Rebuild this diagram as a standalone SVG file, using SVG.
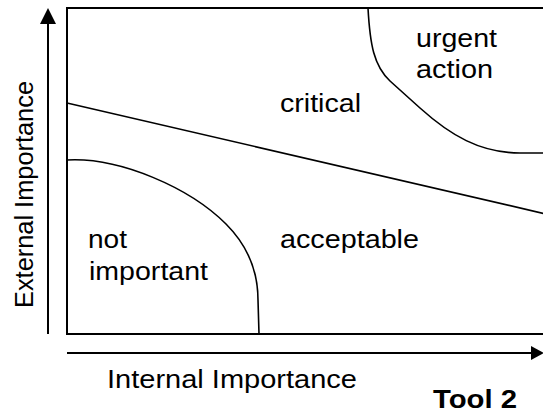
<svg xmlns="http://www.w3.org/2000/svg" width="543" height="413" viewBox="0 0 543 413">
  <defs>
    <style>
      .frame { fill: none; stroke: #000; stroke-width: 2; }
      .axis { fill: none; stroke: #000; stroke-width: 2; }
      .border { fill: none; stroke: #000; stroke-width: 1.6; }
      .head { fill: #000; stroke: none; }
      .label { font-family: "Liberation Sans", Arial, sans-serif; font-size: 25px; fill: #000; }
      .title { font-family: "Liberation Sans", Arial, sans-serif; font-size: 25px; font-weight: bold; fill: #000; }
    </style>
  </defs>
  <rect width="543" height="413" fill="#fff"/>

  <!-- axes -->
  <g id="axes">
    <line class="axis" x1="48" y1="334" x2="48" y2="20"/>
    <polygon class="head" points="48,8 40,24 56,24"/>
    <line class="axis" x1="67" y1="353" x2="534" y2="353"/>
    <polygon class="head" points="544,353 531,346 531,360"/>
    <text class="label" transform="translate(33,308) rotate(-90)" x="0" y="0" font-size="27" textLength="227" lengthAdjust="spacingAndGlyphs">External Importance</text>
    <text class="label" x="107" y="388" textLength="250" lengthAdjust="spacingAndGlyphs">Internal Importance</text>
  </g>

  <!-- plot frame (open to the right) -->
  <path id="frame" class="frame" d="M546,8 H67 V334 H546"/>

  <!-- region boundaries -->
  <g id="boundaries">
    <line class="border" x1="67" y1="103" x2="546" y2="214"/>
    <path class="border" d="M67,160 C120,157 190,188 226,224 C250,248 258,275 258,300 L259,334"/>
    <path class="border" d="M368,8 C370,45 374,66 390,81 L420,108 C450,135 480,153 520,153 L546,153"/>
  </g>

  <!-- region labels -->
  <g id="critical"><text class="label" x="280" y="112" textLength="81" lengthAdjust="spacingAndGlyphs">critical</text></g>
  <g id="urgent-action">
    <text class="label" x="416" y="47" textLength="81" lengthAdjust="spacingAndGlyphs">urgent</text>
    <text class="label" x="416" y="78" textLength="77" lengthAdjust="spacingAndGlyphs">action</text>
  </g>
  <g id="acceptable"><text class="label" x="280" y="248" textLength="139" lengthAdjust="spacingAndGlyphs">acceptable</text></g>
  <g id="not-important">
    <text class="label" x="88" y="248" textLength="39" lengthAdjust="spacingAndGlyphs">not</text>
    <text class="label" x="89" y="280" textLength="119" lengthAdjust="spacingAndGlyphs">important</text>
  </g>

  <text id="tool" class="title" x="433" y="407.5" textLength="84" lengthAdjust="spacingAndGlyphs">Tool 2</text>
</svg>
